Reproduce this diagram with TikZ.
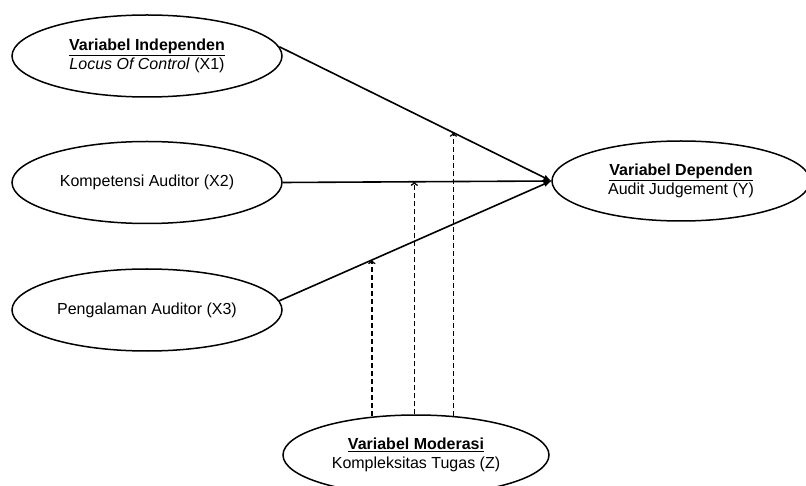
\documentclass[tikz,border=0pt]{standalone}
\usepackage{fontspec}
\setmainfont{Liberation Sans}
\usetikzlibrary{shapes.geometric, positioning}

\begin{document}
\begin{tikzpicture}[x=1pt, y=-1pt, var/.style={ellipse, draw, line width=1.5pt, minimum width=270pt, minimum height=82pt, align=center, font=\fontsize{16}{19}\selectfont}, moderation/.style={-to, dash pattern=on 5pt off 3pt, line width=1.6pt}]
\useasboundingbox (0,0) rectangle (806,486);
\node (x1) [var] at (147,56) {\underline{\textbf{Variabel Independen}}\\\textit{Locus Of Control} (X1)};
\node (x2) [var, below = 43pt of x1] {Kompetensi Auditor (X2)};
\node (x3) [var, below = 44pt of x2] {Pengalaman Auditor (X3)};
\node (y) [var, minimum width=258pt, minimum height=80pt] at (681,181) {\underline{\textbf{Variabel Dependen}}\\Audit Judgement (Y)};
\node (z) [var, minimum width=266pt, minimum height=80pt] at (416,455) {\underline{\textbf{Variabel Moderasi}}\\Kompleksitas Tugas (Z)};
\draw [-latex, line width=1.6pt] (x1.4) -- coordinate [pos=0.64] (c1) (y.west);
\draw [-latex, line width=1.6pt] (x2.east) -- coordinate [pos=0.49] (c2) (y.west);
\draw [-latex, line width=1.6pt] (x3.4) -- coordinate [pos=0.34] (c3) (y.west);
% moderating effects
\draw [moderation] ([yshift=-2pt]c3 |- z.north) -- (c3);
\draw [moderation] (c2 |- z.north) -- (c2);
\draw [moderation] ([yshift=-2pt]c1 |- z.north) -- (c1);
\end{tikzpicture}
\end{document}
